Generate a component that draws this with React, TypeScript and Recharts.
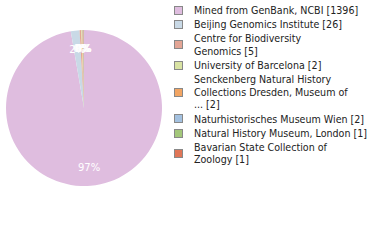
import React from "react";
import { PieChart, Pie, Cell, Legend } from "recharts";

const sources = [
  "Mined from GenBank, NCBI",
  "Beijing Genomics Institute",
  "Centre for Biodiversity Genomics",
  "University of Barcelona",
  "Senckenberg Natural History Collections Dresden, Museum of ...",
  "Naturhistorisches Museum Wien",
  "Natural History Museum, London",
  "Bavarian State Collection of Zoology",
];
const counts = [1396, 26, 5, 2, 2, 2, 1, 1];
// legend text as it wraps in the picture
const legendLines = [
  ["Mined from GenBank, NCBI [1396]"],
  ["Beijing Genomics Institute [26]"],
  ["Centre for Biodiversity", "Genomics [5]"],
  ["University of Barcelona [2]"],
  ["Senckenberg Natural History", "Collections Dresden, Museum of", "... [2]"],
  ["Naturhistorisches Museum Wien [2]"],
  ["Natural History Museum, London [1]"],
  ["Bavarian State Collection of", "Zoology [1]"],
];
const colors = [
  "#dfbddf",
  "#c9d9e6",
  "#e3a595",
  "#d9e3a3",
  "#f2a563",
  "#a3c1e0",
  "#a3c77a",
  "#e07657",
];

const total = counts.reduce((a, b) => a + b, 0);
const chartData = sources.map((name, i) => ({ name, value: counts[i] }));

const RADIAN = Math.PI / 180;

const renderLabel = ({ cx, cy, midAngle, outerRadius, value }: any) => {
  const r = outerRadius * 0.76;
  const x = cx + r * Math.cos(-midAngle * RADIAN);
  const y = cy + r * Math.sin(-midAngle * RADIAN);
  const pct = Math.round((value / total) * 100);
  return (
    <text
      x={x}
      y={y}
      fill="#ffffff"
      fontSize={10}
      fontFamily="DejaVu Sans, sans-serif"
      textAnchor="middle"
      dominantBaseline="central"
    >
      {pct}%
    </text>
  );
};

const LegendList = () => (
  <div
    style={{
      fontFamily: "'DejaVu Sans Condensed', 'DejaVu Sans', sans-serif",
      fontStretch: "condensed",
      fontSize: 10.6,
      lineHeight: "12.7px",
      color: "#222",
    }}
  >
    {legendLines.map((lines, i) => (
      <div
        key={i}
        style={{ display: "flex", alignItems: "center", marginBottom: 1.4 }}
      >
        <span
          style={{
            width: 7,
            height: 7,
            background: colors[i],
            border: "1px solid #888",
            marginRight: 11,
            flexShrink: 0,
          }}
        />
        <div>
          {lines.map((l) => (
            <div key={l} style={{ whiteSpace: "nowrap" }}>
              {l}
            </div>
          ))}
        </div>
      </div>
    ))}
  </div>
);

export default function App() {
  return (
    <div style={{ position: "absolute", left: 0, top: 0, width: 380, height: 240, background: "#fff" }}>
      <PieChart width={380} height={240} margin={{ top: 0, right: 0, bottom: 0, left: 0 }}>
        <Pie
          data={chartData}
          dataKey="value"
          nameKey="name"
          cx={84}
          cy={108}
          outerRadius={78}
          startAngle={90}
          endAngle={-270}
          stroke="none"
          label={renderLabel}
          labelLine={false}
          isAnimationActive={false}
        >
          {chartData.map((d, i) => (
            <Cell key={d.name} fill={colors[i]} />
          ))}
        </Pie>
        <Legend
          layout="vertical"
          align="right"
          verticalAlign="top"
          content={<LegendList />}
          wrapperStyle={{ left: 174, top: 4, width: 200 }}
        />
      </PieChart>
    </div>
  );
}
